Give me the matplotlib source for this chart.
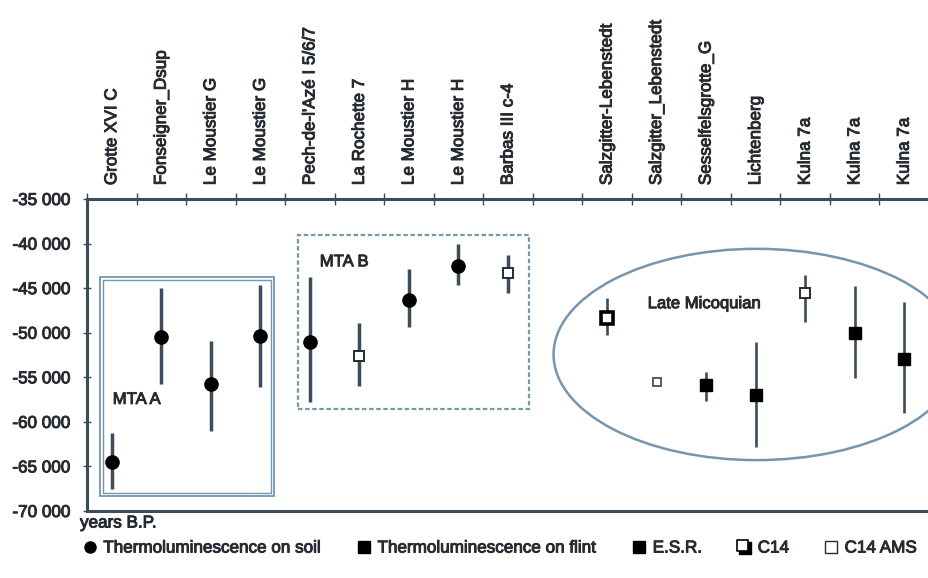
import numpy as np
import matplotlib
matplotlib.use('Agg')
import matplotlib.pyplot as plt
import matplotlib.patheffects as pe
from matplotlib.patches import Rectangle, Ellipse
from matplotlib.lines import Line2D
from matplotlib.path import Path

plt.rcParams['font.family'] = ['Liberation Sans', 'DejaVu Sans']

# sites along the top axis (slot 9 is left empty)
sites = ['Grotte XVI C', 'Fonseigner_Dsup', 'Le Moustier G', 'Le Moustier G',
         "Pech-de-l'Azé I 5/6/7", 'La Rochette 7', 'Le Moustier H', 'Le Moustier H',
         'Barbas III c-4', 'Salzgitter-Lebenstedt', 'Salzgitter_Lebenstedt',
         'Sesselfelsgrotte_G', 'Lichtenberg', 'Kulna 7a', 'Kulna 7a', 'Kulna 7a']
slots = [0, 1, 2, 3, 4, 5, 6, 7, 8, 10, 11, 12, 13, 14, 15, 16]

# dates in years B.P. (negative), with lower/upper limits
age = [-64500, -50500, -55700, -50400, -51000, -52600, -46300, -42500,
       -43300, -48400, -55500, -55900, -57000, -45500, -50000, -53000]
age_lo = [-67500, -55800, -61000, -56100, -57800, -56000, -49400, -44600,
          -45500, -50200, -55500, -57700, -62800, -48800, -55100, -59000]
age_hi = [-61200, -45000, -50900, -44600, -43800, -48900, -42900, -40100,
          -41300, -46100, -55500, -54400, -51000, -43500, -44800, -46600]
method = ['soil', 'soil', 'soil', 'soil', 'soil', 'ams', 'soil', 'soil',
          'ams', 'c14', 'ams', 'flint', 'flint', 'ams', 'flint', 'flint']

yticks = [-35000, -40000, -45000, -50000, -55000, -60000, -65000, -70000]

ink = '#262b31'
slate = '#3c4c58'
frame_blue = '#7496ae'
heavy = [pe.withStroke(linewidth=0.7, foreground=ink)]

# open square with a dark drop shadow, used for conventional C14
sq = Path([(-0.7, -0.4), (0.4, -0.4), (0.4, 0.7), (-0.7, 0.7), (-0.7, -0.4)],
          [Path.MOVETO, Path.LINETO, Path.LINETO, Path.LINETO, Path.CLOSEPOLY])
shadow = Path([(-0.5, -0.7), (0.7, -0.7), (0.7, 0.5), (-0.5, 0.5), (-0.5, -0.7)],
              [Path.MOVETO, Path.LINETO, Path.LINETO, Path.LINETO, Path.CLOSEPOLY])

fig = plt.figure(figsize=(9.29, 5.78), dpi=100)
ax = fig.add_axes([87 / 929, 0.1159, 1 - 87 / 929, 0.5398])

for x, y, lo, hi, m in zip(slots, age, age_lo, age_hi, method):
    lw = 2.5 if x < 9 else 1.9
    if hi > lo:
        ax.plot([x, x], [lo, hi], color=slate, lw=lw, solid_capstyle='butt', zorder=3)
    if m == 'soil':
        ax.plot(x, y, 'o', ms=9.5, color='black', zorder=4)
    elif m == 'flint':
        ax.plot(x, y, 's', ms=8, color='black', zorder=4)
    elif m == 'ams':
        ms = 5.5 if hi == lo else 7
        col = '#555b60' if hi == lo else ink
        ax.plot(x, y, 's', ms=ms, mfc='white', mec=col, mew=1.4, zorder=4)
    elif m == 'c14':
        ax.plot(x, y, 's', ms=8.5, mfc='white', mec='black', mew=2.6, zorder=4)

# group frames
ax.add_patch(Rectangle((-0.24, -68320), 3.52, 24600, fill=False,
                       ec=frame_blue, lw=1.3, zorder=2))
ax.add_patch(Rectangle((-0.18, -67990), 3.40, 23940, fill=False,
                       ec=frame_blue, lw=1.0, zorder=2))
ax.add_patch(Rectangle((3.76, -58590), 4.66, 19560, fill=False,
                       ec=frame_blue, lw=1.6, ls=(0, (2, 1.2)), zorder=2))
ax.add_patch(Ellipse((13.02, -52440), 8.2, 23700, fill=False,
                     ec=frame_blue, lw=1.8, zorder=2))

for x, y, s in [(0.02, -57480, 'MTA A'), (4.2, -42040, 'MTA B'),
                (10.82, -46740, 'Late Micoquian')]:
    ax.text(x, y, s, fontsize=12, color=ink, va='center', path_effects=heavy)

ax.set_xlim(-0.5, 16.34)
ax.set_ylim(-70000, -35000)

# site names on top, tick marks between the categories
ax.xaxis.tick_top()
ax.set_xticks(slots)
ax.set_xticklabels(sites, rotation=90, fontsize=12.3, color=ink, path_effects=heavy)
ax.set_xticks(np.arange(-0.5, 16.6, 1), minor=True)
ax.tick_params(axis='x', which='major', length=0, pad=10)
ax.tick_params(axis='x', which='minor', direction='inout', length=8, width=1,
               color=slate, top=True, bottom=False)

ax.set_yticks(yticks)
ax.set_yticklabels([f'{v:,}'.replace(',', ' ') for v in yticks],
                   fontsize=12.3, color=ink, path_effects=heavy)
ax.tick_params(axis='y', direction='inout', length=6, width=1, color=slate, pad=9)

for side in ['top', 'bottom', 'left']:
    ax.spines[side].set_color(slate)
    ax.spines[side].set_linewidth(2.2)
ax.spines['right'].set_visible(False)

fig.text(80 / 929, 1 - 523 / 578, 'years B.P.', fontsize=12.3, color=ink,
         va='center', path_effects=heavy)

handles = [
    Line2D([], [], ls='none', marker='o', ms=8, color='black'),
    Line2D([], [], ls='none', marker='s', ms=8, color='black'),
    Line2D([], [], ls='none', marker='s', ms=9, color='black'),
    (Line2D([], [], ls='none', marker=shadow, ms=10, color='black'),
     Line2D([], [], ls='none', marker=sq, ms=10, mfc='white', mec='black', mew=1.2)),
    Line2D([], [], ls='none', marker='s', ms=9, mfc='white', mec=ink, mew=1.0),
]
labels = ['Thermoluminescence on soil', 'Thermoluminescence on flint',
          'E.S.R.', 'C14', 'C14 AMS']
leg = fig.legend(handles, labels, loc='center', bbox_to_anchor=(0.538, 1 - 548 / 578),
                 ncol=5, frameon=False, fontsize=12.3, handlelength=0.8,
                 handletextpad=0.4, columnspacing=2.05, labelcolor=ink)
for t in leg.get_texts():
    t.set_path_effects(heavy)

fig.savefig('out.png', dpi=100, facecolor='white')
